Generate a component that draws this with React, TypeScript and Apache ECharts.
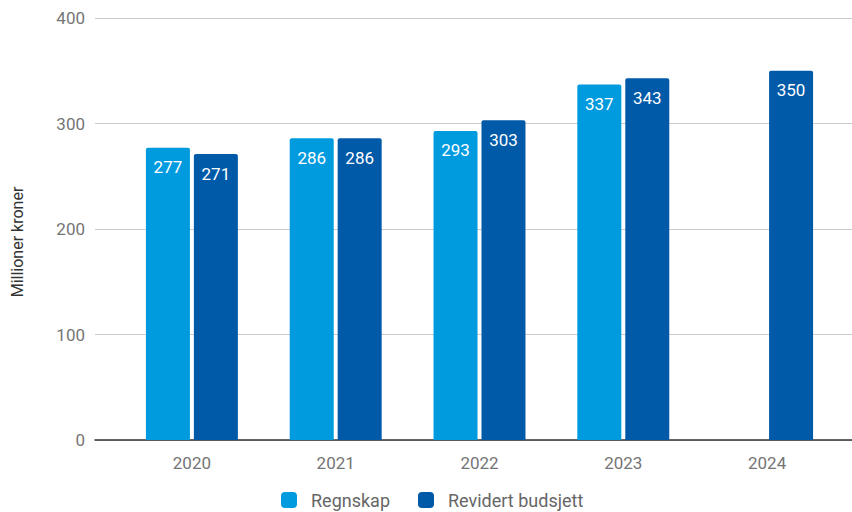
import React, { useEffect, useRef } from "react";
import * as echarts from "echarts";

const categories = ["2020", "2021", "2022", "2023", "2024"];
const regnskap: (number | null)[] = [277, 286, 293, 337, null];
const revidert: number[] = [271, 286, 303, 343, 350];
const yTicks = [0, 100, 200, 300, 400];

export default function App() {
  const ref = useRef<HTMLDivElement>(null);
  useEffect(() => {
    if (!ref.current) return;
    const chart = echarts.init(ref.current, undefined, { renderer: "svg" });
    const font = "Roboto, 'Noto Sans', sans-serif";
    const labelCfg = {
      show: true,
      position: "insideTop",
      distance: 11,
      color: "#ffffff",
      fontSize: 17,
      fontFamily: font,
    };
    chart.setOption({
      animation: false,
      textStyle: { fontFamily: font },
      grid: [
        { left: 95, right: 0, top: 18, bottom: 72 },
        { left: 120, right: 13, top: 18, bottom: 72 },
      ],
      graphic: [
        {
          type: "text",
          x: 17,
          y: 242,
          rotation: Math.PI / 2,
          style: {
            text: "Millioner kroner",
            fill: "#333333",
            font: `16px ${font}`,
            align: "center",
            verticalAlign: "middle",
          },
        },
      ],
      legend: {
        top: 486,
        left: 276,
        itemWidth: 16,
        itemHeight: 16,
        itemGap: 28,
        icon: "roundRect",
        textStyle: { color: "#666666", fontSize: 18, fontFamily: font, padding: [0, 0, 0, 9] },
        data: ["Regnskap", "Revidert budsjett"],
      },
      xAxis: [
        {
          gridIndex: 0,
          type: "value",
          min: 0,
          max: 1,
          axisLine: { show: true, lineStyle: { color: "#333333", width: 1.5 } },
          axisTick: { show: false },
          axisLabel: { show: false },
          splitLine: { show: false },
        },
        {
          gridIndex: 1,
          type: "category",
          data: categories,
          axisLine: { show: false },
          axisTick: { show: false },
          axisLabel: { color: "#757575", fontSize: 17, margin: 14, fontFamily: font },
        },
      ],
      yAxis: [
        {
          gridIndex: 0,
          type: "value",
          min: yTicks[0],
          max: yTicks[yTicks.length - 1],
          interval: 100,
          axisLine: { show: false },
          axisTick: { show: false },
          axisLabel: { color: "#757575", fontSize: 17, margin: 10, fontFamily: font },
          splitLine: { lineStyle: { color: "#cccccc", width: 1 } },
        },
        {
          gridIndex: 1,
          type: "value",
          min: yTicks[0],
          max: yTicks[yTicks.length - 1],
          interval: 100,
          show: false,
          splitLine: { show: false },
        },
      ],
      series: [
        {
          name: "Regnskap",
          type: "bar",
          xAxisIndex: 1,
          yAxisIndex: 1,
          data: regnskap,
          barWidth: 44,
          barGap: "9%",
          itemStyle: { color: "#009ADE", borderRadius: [2, 2, 0, 0] },
          label: labelCfg,
          z: 3,
        },
        {
          name: "Revidert budsjett",
          type: "bar",
          xAxisIndex: 1,
          yAxisIndex: 1,
          data: revidert,
          barWidth: 44,
          barGap: "9%",
          itemStyle: { color: "#005AA8", borderRadius: [2, 2, 0, 0] },
          label: labelCfg,
          z: 3,
        },
      ],
    });
    return () => chart.dispose();
  }, []);
  return <div ref={ref} style={{ width: 852, height: 512, position: "absolute", left: 0, top: 0 }} />;
}
